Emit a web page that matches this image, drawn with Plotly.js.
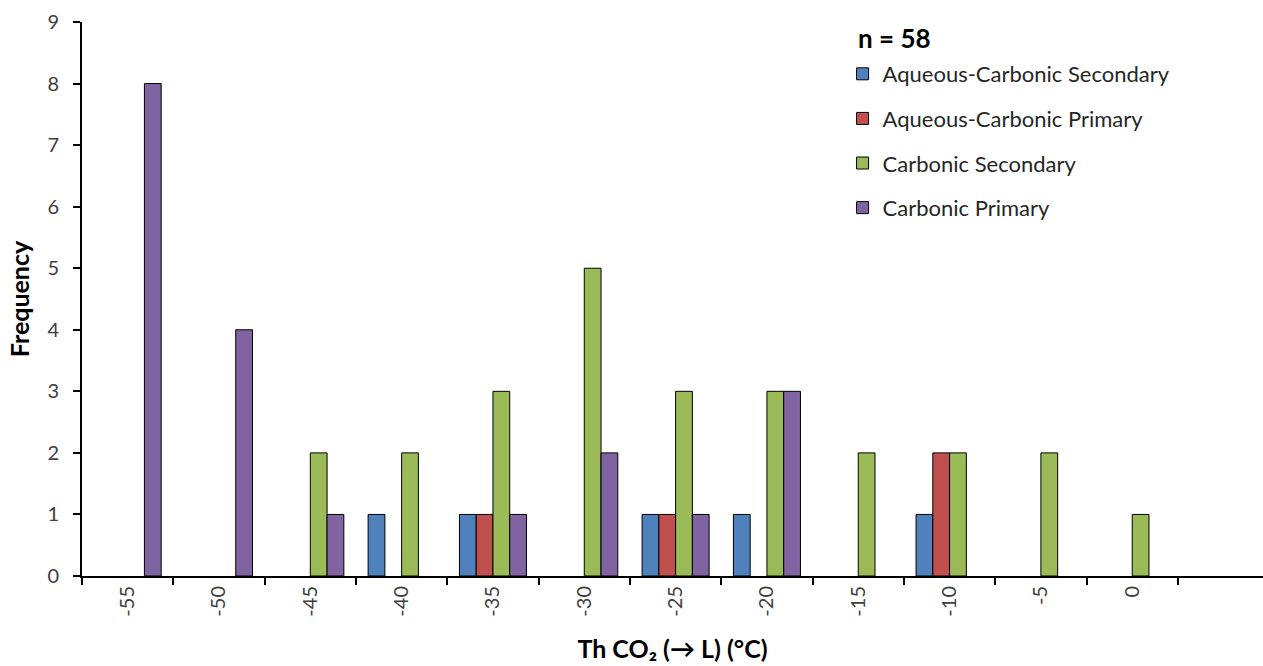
<!DOCTYPE html>
<html>
<head>
<meta charset="utf-8">
<script src="https://cdn.plot.ly/plotly-3.0.1.min.js"></script>
<style>html,body{margin:0;padding:0;background:#fff;}#chart{width:1263px;height:666px;}</style>
</head>
<body>
<div id="chart"></div>
<script>
var temps = [-55, -50, -45, -40, -35, -30, -25, -20, -15, -10, -5, 0];
var tickLabels = ["-55", "-50", "-45", "-40", "-35", "-30", "-25", "-20", "-15", "-10", "-5", "0"];
var seriesNames = ["Aqueous-Carbonic Secondary", "Aqueous-Carbonic Primary", "Carbonic Secondary", "Carbonic Primary"];
var aqueousCarbonicSecondary = [null, null, null, 1, 1, null, 1, 1, null, 1, null, null];
var aqueousCarbonicPrimary   = [null, null, null, null, 1, null, 1, null, null, 2, null, null];
var carbonicSecondary        = [null, null, 2, 2, 3, 5, 3, 3, 2, 2, 2, 1];
var carbonicPrimary          = [8, 4, 1, null, 1, 2, 1, 3, null, null, null, null];
var sampleCount = 58;
var colors = ["#4F81BD", "#C0504D", "#9BBB59", "#8064A2"];

var values = [aqueousCarbonicSecondary, aqueousCarbonicPrimary, carbonicSecondary, carbonicPrimary];
var FONT = "Lato, 'Liberation Sans', sans-serif";
var traces = values.map(function (v, i) {
  return {
    type: "bar", x: temps, y: v, name: seriesNames[i],
    legendgroup: "g" + i,
    marker: {color: colors[i], line: {color: "#000", width: 1}},
    hoverinfo: "x+y+name"
  };
});

var layout = {
  width: 1263, height: 666,
  margin: {l: 82, r: 0, t: 22, b: 90, pad: 0},
  paper_bgcolor: "#fff", plot_bgcolor: "#fff",
  barmode: "group", bargap: 0.266, bargroupgap: 0,
  font: {family: FONT, color: "#404040", size: 20},
  showlegend: true,
  legend: {
    x: 0.644, xanchor: "left", y: 0.944, yanchor: "top",
    font: {family: FONT, size: 22, color: "#262626"},
    tracegroupgap: 13, bgcolor: "rgba(0,0,0,0)",
    traceorder: "grouped"
  },
  xaxis: {
    type: "linear", range: [-57.5, 7.16],
    tickmode: "array", tickvals: temps, ticktext: tickLabels,
    tickangle: -90, ticks: "", ticklen: 0,
    showgrid: false, zeroline: false,
    showline: true, linecolor: "#000", linewidth: 2,
    tickfont: {family: FONT, size: 20, color: "#404040"},
    minor: {tick0: -57.5, dtick: 5, ticks: "outside", ticklen: 7, tickwidth: 2, tickcolor: "#000", showgrid: false},
    title: {text: "Th CO\u2082 (\u2192 L) (\u00B0C)", font: {family: FONT, size: 25, color: "#000", weight: "bold"}, standoff: 25},
    fixedrange: true
  },
  yaxis: {
    range: [0, 9], tickmode: "linear", tick0: 0, dtick: 1,
    ticks: "outside", ticklen: 7, tickwidth: 2, tickcolor: "#000",
    ticklabelstandoff: 10,
    showgrid: false, zeroline: false,
    showline: true, linecolor: "#000", linewidth: 2,
    tickfont: {family: FONT, size: 20, color: "#404040"},
    title: {text: "Frequency", font: {family: FONT, size: 25, color: "#000", weight: "bold"}, standoff: 11},
    fixedrange: true
  },
  annotations: [{
    xref: "paper", yref: "paper", x: 0.655, y: 0.971, xanchor: "left", yanchor: "middle",
    text: "<b>n = " + sampleCount + "</b>", showarrow: false,
    font: {family: FONT, size: 26, color: "#000"}
  }]
};

Plotly.newPlot("chart", traces, layout, {displayModeBar: false, responsive: false});
</script>
</body>
</html>
